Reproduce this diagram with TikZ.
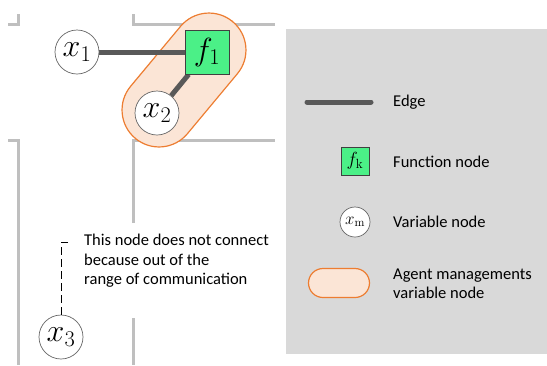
\RequirePackage{fix-cm}
\documentclass[tikz,border=0pt]{standalone}
\usepackage[no-math]{fontspec}
\setmainfont{Carlito}
\usetikzlibrary{calc}
\pgfdeclarelayer{floor}
\pgfdeclarelayer{links}
\pgfsetlayers{floor,links,main}
\definecolor{wallgray}{RGB}{191,191,191}
\definecolor{edgegray}{RGB}{89,89,89}
\definecolor{fgreen}{RGB}{75,240,135}
\definecolor{agentorange}{RGB}{237,125,49}
\definecolor{agentfill}{RGB}{251,229,214}
\definecolor{panelgray}{RGB}{217,217,217}
\tikzset{
  wall/.style={draw=wallgray, line width=3pt},
  edgeline/.style={draw=edgegray, line width=5pt},
  varnode/.style={circle, draw=black!60, fill=white, line width=0.7pt, minimum size=44pt, inner sep=0pt, font=\fontsize{32}{32}\selectfont},
  funnode/.style={rectangle, draw=black!75, fill=fgreen, line width=0.8pt, minimum size=44pt, inner sep=0pt, font=\fontsize{32}{32}\selectfont},
  agent/.style={draw=agentorange, fill=agentfill, line width=1.2pt},
  label/.style={anchor=west, font=\fontsize{16.5}{19.5}\selectfont, inner sep=0pt, align=left},
}
\begin{document}
\begin{tikzpicture}[x=1pt, y=-1pt]
\useasboundingbox (0,0) rectangle (547,365);
\begin{pgfonlayer}{floor}
% walls of the floor plan
\draw[wall] (8,24) -- (18,24) -- (18,14);
\draw[wall] (133,14) -- (133,24) -- (275,24);
\draw[wall] (8,140) -- (18,140) -- (18,365);
\draw[wall] (133,223) -- (133,140) -- (275,140);
\draw[wall] (133,318) -- (133,365);
% legend panel
\fill[panelgray] (286,29) rectangle (547,354);
% agent region around f1 and x2
\node[agent, rotate=50.2, minimum width=152pt, minimum height=74pt, rounded corners=37pt, inner sep=0pt] (agentA) at (184,80) {};
\end{pgfonlayer}
% nodes
\node[funnode] (f1) at (207,52) {$f_1$};
\node[varnode] (x1) at (77,52) {$x_1$};
\node[varnode] (x2) at (157,113) {$x_2$};
\node[varnode] (x3) at (61,337) {$x_3$};
% edges
\begin{pgfonlayer}{links}
\draw[edgeline] (x1) -- (f1);
\draw[edgeline] (f1) -- (x2);
\end{pgfonlayer}
% unreachable node annotation
\coordinate (dk) at (68,242);
\draw[line width=0.8pt, dash pattern=on 8pt off 4pt] (dk) -- (x3.north |- dk) -- (x3.north);
\node[label] (note) at (84,261) {This node does not connect\\because out of the\\range of communication};
% legend
\coordinate (el) at (307,102);
\coordinate (er) at (371,102);
\draw[edgeline, line cap=round] (el) -- (er);
\node[label] (tedge) at (393,102) {Edge};
\node[funnode, minimum size=28pt, font=\fontsize{19}{19}\selectfont] (lf) at (355,161) {$f_{\mathrm{k}}$};
\node[label] (tfun) at (393,162) {Function node};
\node[varnode, minimum size=30pt, font=\fontsize{17}{17}\selectfont] (lx) at (355,222) {$x_{\mathrm{m}}$};
\node[label] (tvar) at (393,222) {Variable node};
\node[agent, rounded corners=14.5pt, minimum width=61pt, minimum height=29pt, inner sep=0pt] (la) at (339,283) {};
\node[label] (tagent) at (393,284) {Agent managements\\variable node};
\end{tikzpicture}
\end{document}
